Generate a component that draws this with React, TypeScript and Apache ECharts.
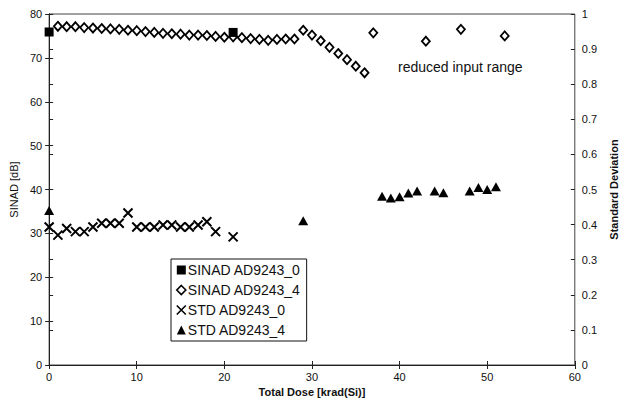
import React, { useEffect, useRef } from "react";
import * as echarts from "echarts";

const FONT = "'Liberation Sans', Arial, Helvetica, sans-serif";

// SINAD AD9243_0 (filled squares), [dose, dB]
const sinad0X = [0, 21];
const sinad0Y = [75.9, 75.8];

// SINAD AD9243_4 (hollow diamonds), [dose, dB]
const sinad4X = [
  1, 2, 3, 4, 5, 6, 7, 8, 9, 10, 11, 12, 13, 14, 15, 16, 17, 18, 19, 20, 21, 22, 23, 24, 25, 26, 27, 28,
  29, 30, 31, 32, 33, 34, 35, 36, 37, 43, 47, 52,
];
const sinad4Y = [
  77.2, 77.1, 77.1, 76.9, 76.8, 76.7, 76.6, 76.5, 76.3, 76.2, 76.0, 75.8, 75.6, 75.5, 75.4, 75.2, 75.2, 75.1,
  74.9, 74.7, 74.8, 74.6, 74.4, 74.2, 74.0, 74.2, 74.3, 74.3, 76.3, 75.2, 73.9, 72.4, 71.0, 69.6, 68.1, 66.6,
  75.7, 73.8, 76.5, 75.0,
];

// STD AD9243_0 (crosses), [dose, std]
const std0X = [0, 1, 2, 3, 4, 5, 6, 7, 8, 9, 10, 11, 12, 13, 14, 15, 16, 17, 18, 19, 21];
const std0Y = [
  0.393, 0.37, 0.389, 0.38, 0.38, 0.393, 0.404, 0.404, 0.404, 0.433, 0.393, 0.393, 0.393, 0.399, 0.399, 0.393,
  0.393, 0.399, 0.408, 0.38, 0.365,
];

// STD AD9243_4 (filled triangles), [dose, std]
const std4X = [0, 29, 38, 39, 40, 41, 42, 44, 45, 48, 49, 50, 51];
const std4Y = [0.44, 0.411, 0.481, 0.476, 0.479, 0.49, 0.496, 0.496, 0.491, 0.496, 0.506, 0.5, 0.508];

const xTicks = { min: 0, max: 60, interval: 10 };
const leftTicks = { min: 0, max: 80, interval: 10 };
const rightTicks = { min: 0, max: 1, interval: 0.1 };

const seriesNames = ["SINAD AD9243_0", "SINAD AD9243_4", "STD AD9243_0", "STD AD9243_4"];
const annotation = "reduced input range";

const zip = (xs: number[], ys: number[]) => xs.map((x, i) => [x, ys[i]]);

const CROSS = "path://M0,0L10,10M10,0L0,10";

export default function App() {
  const ref = useRef<HTMLDivElement>(null);
  useEffect(() => {
    if (!ref.current) return;
    const chart = echarts.init(ref.current, undefined, { renderer: "svg" });
    const axisColor = "#222";
    const labelStyle = { color: "#111", fontFamily: FONT, fontSize: 11 };
    chart.setOption({
      animation: false,
      backgroundColor: "#fff",
      textStyle: { fontFamily: FONT },
      grid: {
        left: 47.5,
        right: 43,
        top: 14,
        bottom: 38,
        show: true,
        borderColor: "#444",
        borderWidth: 1,
        backgroundColor: "transparent",
      },
      legend: {
        orient: "vertical",
        left: 171,
        top: 259,
        padding: [4, 6, 4, 5],
        itemGap: 6,
        itemWidth: 9,
        itemHeight: 9,
        itemStyle: { borderWidth: 1.6 },
        borderColor: "#111",
        borderWidth: 1,
        backgroundColor: "#fff",
        data: seriesNames,
        textStyle: {
          fontFamily: FONT,
          fontSize: 14,
          lineHeight: 14,
          color: "#111",
          padding: [0, 0, 0, -3],
        },
      },
      xAxis: [
        {
          type: "value",
          ...xTicks,
          position: "bottom",
          name: "Total Dose [krad(Si)]",
          nameLocation: "middle",
          nameGap: 18,
          nameTextStyle: { fontFamily: FONT, fontSize: 11, fontWeight: "bold", color: "#111" },
          axisLine: { show: true, lineStyle: { color: axisColor, width: 1 } },
          axisTick: { show: true, length: 4, lineStyle: { color: axisColor } },
          axisLabel: { ...labelStyle, margin: 6 },
          splitLine: { show: false },
        },
        {
          type: "value",
          ...xTicks,
          position: "bottom",
          axisLine: { show: false },
          axisTick: { show: true, inside: true, length: 4, lineStyle: { color: axisColor } },
          axisLabel: { show: false },
          splitLine: { show: false },
        },
      ],
      yAxis: [
        {
          type: "value",
          ...leftTicks,
          position: "left",
          name: "SINAD [dB]",
          nameLocation: "middle",
          nameGap: 30,
          nameTextStyle: { fontFamily: FONT, fontSize: 11, color: "#111" },
          axisLine: { show: true, lineStyle: { color: axisColor, width: 1 } },
          axisTick: { show: true, length: 4, lineStyle: { color: axisColor } },
          axisLabel: { ...labelStyle, margin: 7 },
          splitLine: { show: false },
        },
        {
          type: "value",
          ...rightTicks,
          position: "right",
          name: "Standard Deviation",
          nameLocation: "middle",
          nameGap: 33,
          nameRotate: 90,
          nameTextStyle: { fontFamily: FONT, fontSize: 11, fontWeight: "bold", color: "#111" },
          axisLine: { show: true, lineStyle: { color: axisColor, width: 1 } },
          axisTick: { show: true, length: 4, lineStyle: { color: axisColor } },
          axisLabel: { ...labelStyle, margin: 7 },
          splitLine: { show: false },
        },
        {
          type: "value",
          ...leftTicks,
          position: "left",
          axisLine: { show: false },
          axisTick: { show: true, inside: true, length: 4, lineStyle: { color: axisColor } },
          axisLabel: { show: false },
          splitLine: { show: false },
        },
        {
          type: "value",
          ...rightTicks,
          position: "right",
          axisLine: { show: false },
          axisTick: { show: true, inside: true, length: 4, lineStyle: { color: axisColor } },
          axisLabel: { show: false },
          splitLine: { show: false },
        },
      ],
      graphic: [
        {
          type: "text",
          left: 398,
          top: 60,
          style: { text: annotation, font: `14px ${FONT}`, fill: "#111" },
        },
      ],
      series: [
        {
          name: seriesNames[1],
          type: "scatter",
          xAxisIndex: 0,
          yAxisIndex: 0,
          symbol: "diamond",
          symbolSize: [8, 9],
          itemStyle: { color: "#fff", borderColor: "#000", borderWidth: 1.8, opacity: 1 },
          data: zip(sinad4X, sinad4Y),
        },
        {
          name: seriesNames[0],
          type: "scatter",
          xAxisIndex: 0,
          yAxisIndex: 0,
          symbol: "rect",
          symbolSize: 9,
          itemStyle: { color: "#000", opacity: 1 },
          data: zip(sinad0X, sinad0Y),
        },
        {
          name: seriesNames[2],
          type: "scatter",
          xAxisIndex: 0,
          yAxisIndex: 1,
          symbol: CROSS,
          symbolSize: 9,
          itemStyle: { color: "transparent", borderColor: "#000", borderWidth: 2, opacity: 1 },
          data: zip(std0X, std0Y),
        },
        {
          name: seriesNames[3],
          type: "scatter",
          xAxisIndex: 0,
          yAxisIndex: 1,
          symbol: "triangle",
          symbolSize: [10, 9],
          itemStyle: { color: "#000", opacity: 1 },
          data: zip(std4X, std4Y),
        },
      ],
    });
    return () => chart.dispose();
  }, []);
  return (
    <div
      ref={ref}
      style={{ position: "fixed", left: 0, top: 0, width: 627, height: 403, background: "#fff" }}
    />
  );
}
